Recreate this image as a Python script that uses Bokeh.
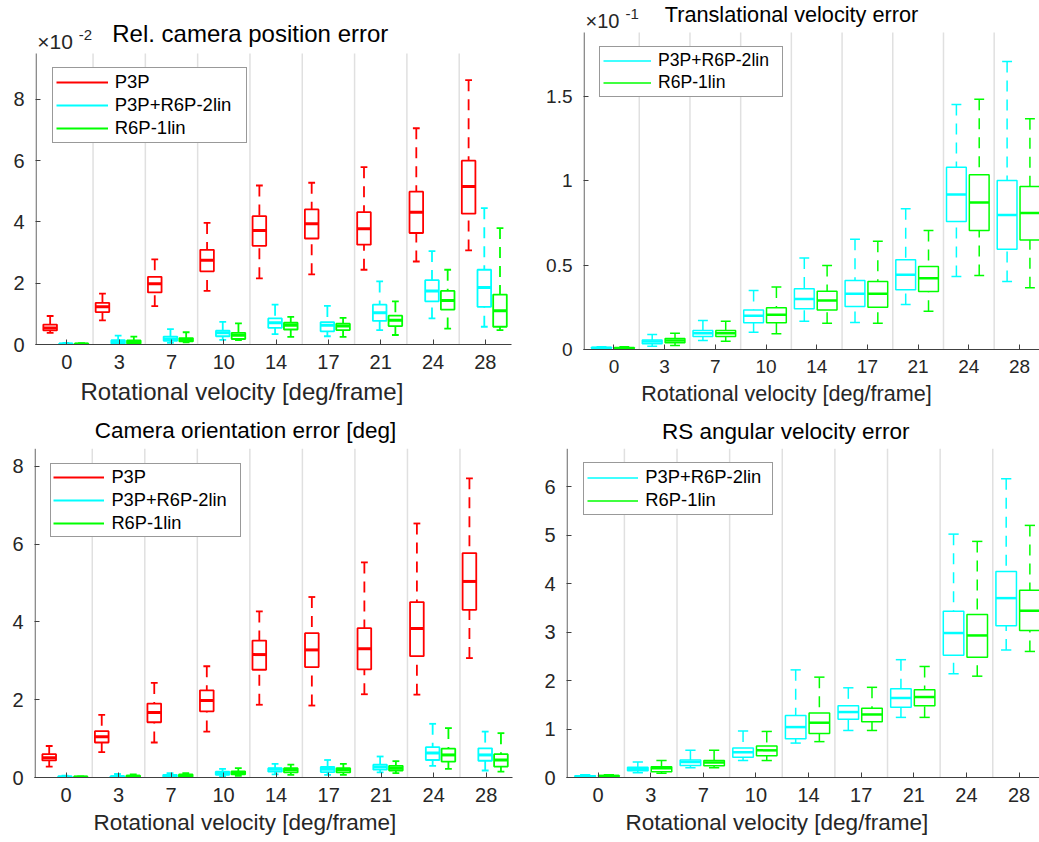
from bokeh.plotting import figure
from bokeh.layouts import column, row
from bokeh.models import (ColumnDataSource, FixedTicker, Label, Legend, Title,
                          LegendItem, Range1d, CustomJSTickFormatter)
from bokeh.embed import file_html
from bokeh.resources import INLINE

FONT = "Liberation Sans"
TEXT = "#262626"
AXIS = "#404040"
RED, CYAN, GREEN = "#ff0000", "#00ffff", "#00ff00"

# Rotational velocity groups [deg/frame]
velocities = [0, 3, 7, 10, 14, 17, 21, 24, 28]

# Box statistics per group: (lower whisker, q1, median, q3, upper whisker)
# Relative camera position error (x 1e-2)
pos_p3p = [(0.38, 0.46, 0.54, 0.65, 0.93), (0.79, 1.06, 1.23, 1.36, 1.66),
           (1.25, 1.70, 1.98, 2.21, 2.78), (1.75, 2.39, 2.75, 3.09, 3.97),
           (2.16, 3.22, 3.72, 4.19, 5.19), (2.29, 3.46, 3.94, 4.41, 5.28),
           (2.44, 3.26, 3.78, 4.32, 5.79), (2.71, 3.64, 4.32, 4.99, 7.06),
           (3.07, 4.27, 5.16, 6.00, 8.63)]
pos_2lin = [(0.00, 0.01, 0.02, 0.03, 0.05), (0.01, 0.03, 0.09, 0.14, 0.29),
            (0.05, 0.12, 0.18, 0.26, 0.50), (0.15, 0.27, 0.38, 0.45, 0.74),
            (0.34, 0.54, 0.71, 0.85, 1.30), (0.27, 0.43, 0.63, 0.73, 1.26),
            (0.47, 0.77, 1.04, 1.30, 2.06), (0.85, 1.41, 1.75, 2.10, 3.05),
            (0.58, 1.23, 1.86, 2.44, 4.45)]
pos_1lin = [(0.00, 0.01, 0.02, 0.03, 0.04), (0.01, 0.03, 0.09, 0.13, 0.26),
            (0.07, 0.10, 0.16, 0.21, 0.40), (0.14, 0.18, 0.30, 0.38, 0.69),
            (0.25, 0.49, 0.63, 0.71, 0.90), (0.25, 0.47, 0.60, 0.68, 0.87),
            (0.31, 0.60, 0.79, 0.94, 1.41), (0.52, 1.14, 1.44, 1.75, 2.44),
            (0.47, 0.58, 1.10, 1.63, 3.80)]

# Translational velocity error (x 1e-1)
tv_2lin = [(0.003, 0.006, 0.009, 0.013, 0.017), (0.020, 0.034, 0.047, 0.057, 0.089),
           (0.053, 0.077, 0.097, 0.113, 0.172), (0.103, 0.158, 0.200, 0.235, 0.350),
           (0.168, 0.241, 0.300, 0.360, 0.542), (0.160, 0.255, 0.330, 0.409, 0.654),
           (0.267, 0.354, 0.443, 0.532, 0.834), (0.433, 0.759, 0.919, 1.081, 1.453),
           (0.403, 0.595, 0.798, 1.002, 1.708)]
tv_1lin = [(0.002, 0.005, 0.008, 0.012, 0.016), (0.024, 0.040, 0.053, 0.065, 0.097),
           (0.049, 0.077, 0.097, 0.113, 0.168), (0.093, 0.158, 0.206, 0.247, 0.370),
           (0.156, 0.235, 0.291, 0.346, 0.498), (0.156, 0.251, 0.330, 0.403, 0.642),
           (0.227, 0.344, 0.423, 0.492, 0.706), (0.439, 0.706, 0.872, 1.036, 1.484),
           (0.366, 0.650, 0.810, 0.966, 1.368)]

# Camera orientation error [deg]
rot_p3p = [(0.28, 0.44, 0.51, 0.60, 0.81), (0.65, 0.90, 1.05, 1.19, 1.61),
           (0.90, 1.42, 1.67, 1.90, 2.43), (1.18, 1.70, 1.98, 2.24, 2.86),
           (1.87, 2.77, 3.16, 3.52, 4.27), (1.85, 2.84, 3.28, 3.71, 4.64),
           (2.14, 2.78, 3.31, 3.84, 5.53), (2.13, 3.12, 3.83, 4.51, 6.53),
           (3.07, 4.31, 5.04, 5.77, 7.69)]
rot_2lin = [(0.00, 0.005, 0.015, 0.03, 0.05), (0.00, 0.005, 0.02, 0.035, 0.09),
            (0.00, 0.02, 0.045, 0.07, 0.11), (0.03, 0.07, 0.11, 0.15, 0.22),
            (0.08, 0.15, 0.21, 0.24, 0.35), (0.07, 0.14, 0.21, 0.27, 0.45),
            (0.13, 0.20, 0.27, 0.33, 0.54), (0.30, 0.45, 0.63, 0.78, 1.38),
            (0.18, 0.43, 0.58, 0.75, 1.18)]
rot_1lin = [(0.00, 0.005, 0.01, 0.02, 0.03), (0.00, 0.01, 0.035, 0.05, 0.08),
            (0.01, 0.02, 0.05, 0.08, 0.11), (0.04, 0.08, 0.13, 0.16, 0.24),
            (0.07, 0.13, 0.20, 0.24, 0.33), (0.07, 0.13, 0.20, 0.24, 0.35),
            (0.11, 0.18, 0.24, 0.30, 0.42), (0.22, 0.41, 0.58, 0.74, 1.27),
            (0.15, 0.28, 0.45, 0.60, 1.14)]

# RS angular velocity error
av_2lin = [(0.00, 0.007, 0.02, 0.035, 0.055), (0.10, 0.14, 0.17, 0.21, 0.32),
           (0.20, 0.25, 0.32, 0.36, 0.56), (0.35, 0.42, 0.52, 0.61, 0.96),
           (0.71, 0.80, 1.04, 1.28, 2.22), (0.97, 1.20, 1.35, 1.48, 1.85),
           (1.24, 1.45, 1.64, 1.83, 2.43), (2.14, 2.52, 2.98, 3.43, 5.02),
           (2.63, 3.13, 3.70, 4.25, 6.16)]
av_1lin = [(0.00, 0.01, 0.03, 0.04, 0.055), (0.09, 0.12, 0.19, 0.22, 0.35),
           (0.20, 0.24, 0.31, 0.35, 0.56), (0.35, 0.45, 0.56, 0.65, 0.95),
           (0.74, 0.91, 1.13, 1.33, 2.07), (0.97, 1.15, 1.30, 1.43, 1.86),
           (1.24, 1.48, 1.66, 1.81, 2.29), (2.09, 2.48, 2.93, 3.36, 4.87),
           (2.60, 3.03, 3.44, 3.86, 5.20)]

PAGE_H = 842
LEFT_W, RIGHT_W = 530, 509
LEFT_SPLIT, RIGHT_SPLIT = 416, 417   # heights of the upper figures
X_START = -0.6


class Panel:
    """A box-plot figure whose frame reaches the canvas top, so that the
    title and the exponent note can sit inside it above the axes."""

    def __init__(self, width, height, left, right, bottom, axes_top_px,
                 x_end, y_top, y_ticks, tick_size, box_lw, med_lw):
        self.left, self.bottom_px = left, height - bottom
        self.box_lw, self.med_lw = box_lw, med_lw
        self.ppx = (width - left - right) / (x_end - X_START)
        self.ppy = (height - bottom - axes_top_px) / y_top
        y_end = (height - bottom) / self.ppy
        p = figure(width=width, height=height, output_backend="svg",
                   toolbar_location=None, title=None,
                   x_range=Range1d(X_START, x_end), y_range=Range1d(0, y_end),
                   min_border_left=left, min_border_right=right,
                   min_border_top=0, min_border_bottom=bottom)
        # each panel keeps its own frame, independent of its neighbours
        if "frame_align" in p.properties():
            p.frame_align = False
        p.outline_line_color = None
        p.grid.visible = False
        p.background_fill_color = "white"
        p.border_fill_color = "white"
        for ax in (p.xaxis[0], p.yaxis[0]):
            ax.axis_line_color = AXIS
            ax.axis_line_width = 1
            ax.major_tick_line_color = AXIS
            ax.major_tick_in = 5
            ax.major_tick_out = 0
            ax.minor_tick_line_color = None
            ax.major_label_text_font = FONT
            ax.major_label_text_font_size = tick_size
            ax.major_label_text_color = TEXT
        p.yaxis.axis_line_color = None
        p.xaxis.ticker = FixedTicker(ticks=list(range(len(velocities))))
        p.xaxis.major_label_overrides = {i: str(v) for i, v in enumerate(velocities)}
        p.xaxis.major_label_standoff = 10
        p.yaxis.ticker = FixedTicker(ticks=y_ticks)
        p.yaxis.formatter = CustomJSTickFormatter(code="return String(tick)")
        p.yaxis.major_label_standoff = 11
        # group separators and the left axis line, both up to the axes top
        seps = [g + 0.5 for g in range(len(velocities) - 1)]
        p.segment(x0=seps, y0=[0] * len(seps), x1=seps, y1=[y_top] * len(seps),
                  line_color="#e0e0e0", line_width=1.5, level="underlay")
        ax_x = X_START + 0.6 / self.ppx
        p.segment(x0=[ax_x], y0=[0], x1=[ax_x], y1=[y_top],
                  line_color=AXIS, line_width=1)
        self.p = p

    def text(self, px, py, txt, size, align="left", color=TEXT):
        x = X_START + (px - self.left) / self.ppx
        y = (self.bottom_px - py) / self.ppy
        self.p.add_layout(Label(x=x, y=y, text=txt, text_font=FONT,
                                text_font_size=size, text_color=color,
                                text_align=align, text_baseline="middle"))

    def xlabel(self, px_left, txt, size, standoff):
        self.p.add_layout(Title(text=txt, align="left", offset=px_left - self.left,
                                text_font=FONT, text_font_size=size,
                                text_font_style="normal", text_color=TEXT,
                                standoff=standoff), "below")

    def boxes(self, stats, offset, width, color):
        lo = [s[0] for s in stats]
        q1 = [s[1] for s in stats]
        med = [s[2] for s in stats]
        q3 = [s[3] for s in stats]
        hi = [s[4] for s in stats]
        xs = [i + offset for i in range(len(stats))]
        src = ColumnDataSource(dict(
            x=xs, lo=lo, q1=q1, med=med, q3=q3, hi=hi,
            l=[x - width / 2 for x in xs], r=[x + width / 2 for x in xs],
            cl=[x - width / 4 for x in xs], cr=[x + width / 4 for x in xs]))
        p, lw = self.p, self.box_lw
        p.segment("x", "hi", "x", "q3", source=src, line_color=color,
                  line_width=lw, line_dash="11 8")
        p.segment("x", "lo", "x", "q1", source=src, line_color=color,
                  line_width=lw, line_dash="11 8")
        caps = p.segment("cl", "hi", "cr", "hi", source=src, line_color=color,
                         line_width=lw)
        p.segment("cl", "lo", "cr", "lo", source=src, line_color=color,
                  line_width=lw)
        p.quad(left="l", right="r", bottom="q1", top="q3", source=src,
               fill_color=None, line_color=color, line_width=lw)
        p.segment("l", "med", "r", "med", source=src, line_color=color,
                  line_width=self.med_lw)
        return caps

    def legend(self, items, loc, font_size, glyph_w, row_h, padding, label_w):
        lg = Legend(items=[LegendItem(label=n, renderers=[r]) for n, r in items],
                    location=loc, orientation="vertical",
                    label_text_font=FONT, label_text_font_size=font_size,
                    label_text_color="#000000",
                    glyph_width=glyph_w, glyph_height=row_h, label_height=row_h,
                    label_standoff=7, label_width=label_w,
                    padding=padding, spacing=1, margin=0,
                    border_line_color="#333333", border_line_width=1,
                    background_fill_color="white", background_fill_alpha=1.0)
        self.p.add_layout(lg)


XLABEL = "Rotational velocity [deg/frame]"
THREE = (-0.32, -0.02, 0.28)
TWO = (-0.245, 0.205)

# --- Relative camera position error ---
a = Panel(LEFT_W, LEFT_SPLIT, 35, 19, LEFT_SPLIT - 344, 53, 8.5, 9.5,
          [0, 2, 4, 6, 8], "20px", 1.8, 3)
r1 = a.boxes(pos_p3p, THREE[0], 0.26, RED)
r2 = a.boxes(pos_2lin, THREE[1], 0.26, CYAN)
r3 = a.boxes(pos_1lin, THREE[2], 0.26, GREEN)
a.legend([("P3P", r1), ("P3P+R6P-2lin", r2), ("R6P-1lin", r3)],
         (16.7, 201), "18.5px", 52, 22, 3, 128)
a.text(111.7, 33.3, "Rel. camera position error", "24px", color="#000000")
a.text(36.7, 40.5, "\u00d710", "21px")
a.text(78.3, 34.3, "-2", "15px")
a.xlabel(80, XLABEL, "24px", 8)

# --- Translational velocity error ---
b = Panel(RIGHT_W, RIGHT_SPLIT, 53, 0, RIGHT_SPLIT - 349, 32, 8.394, 1.88,
          [0, 0.5, 1, 1.5], "19px", 1.5, 2.5)
s2 = b.boxes(tv_2lin, TWO[0], 0.39, CYAN)
s3 = b.boxes(tv_1lin, TWO[1], 0.39, GREEN)
b.legend([("P3P+R6P-2lin", s2), ("R6P-1lin", s3)],
         (16, 252.3), "17.6px", 48, 21, 3, 121)
b.text(791 - 530, 14.2, "Translational velocity error", "21.7px",
       align="center", color="#000000")
b.text(585 - 530, 20.8, "\u00d710", "20px")
b.text(625 - 530, 13.8, "-1", "15px")
b.xlabel(640.7 - 530, XLABEL, "21.6px", 7)

# --- Camera orientation error ---
c = Panel(LEFT_W, PAGE_H - LEFT_SPLIT, 34, 18, 65, 448.3 - LEFT_SPLIT,
          8.5, 8.45, [0, 2, 4, 6, 8], "20px", 1.8, 3)
t1 = c.boxes(rot_p3p, THREE[0], 0.26, RED)
t2 = c.boxes(rot_2lin, THREE[1], 0.26, CYAN)
t3 = c.boxes(rot_1lin, THREE[2], 0.26, GREEN)
c.legend([("P3P", t1), ("P3P+R6P-2lin", t2), ("R6P-1lin", t3)],
         (16.4, 240.3), "18.3px", 51, 22, 2, 127)
c.text(245, 430 - LEFT_SPLIT, "Camera orientation error [deg]", "22.5px",
       align="center", color="#000000")
c.xlabel(93, XLABEL, "22.5px", 6)

# --- RS angular velocity error ---
d = Panel(RIGHT_W, PAGE_H - RIGHT_SPLIT, 36, 0, 65, 448.3 - RIGHT_SPLIT,
          8.388, 6.78, [0, 1, 2, 3, 4, 5, 6], "20px", 1.5, 2.5)
u2 = d.boxes(av_2lin, TWO[0], 0.39, CYAN)
u3 = d.boxes(av_1lin, TWO[1], 0.39, GREEN)
d.legend([("P3P+R6P-2lin", u2), ("R6P-1lin", u3)],
         (17.3, 262), "18.4px", 51, 21, 3, 124)
d.text(785.3 - 530, 430.8 - RIGHT_SPLIT, "RS angular velocity error", "22.5px",
       align="center", color="#000000")
d.xlabel(625 - 530, XLABEL, "22.5px", 6)

layout = row(column(a.p, c.p), column(b.p, d.p))
open("out.html", "w").write(file_html(layout, INLINE))
